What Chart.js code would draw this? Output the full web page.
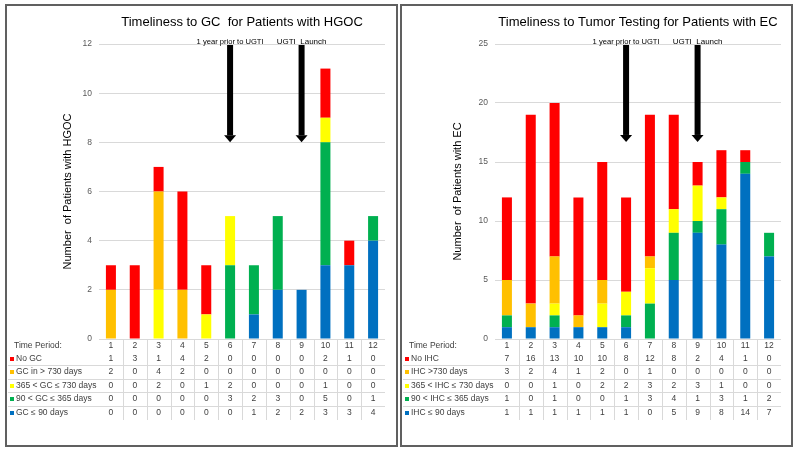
<!DOCTYPE html>
<html>
<head>
<meta charset="utf-8">
<title>Timeliness charts</title>
<script src="https://cdn.jsdelivr.net/npm/chart.js@4.4.0/dist/chart.umd.min.js"></script>
<style>
  html, body { margin: 0; padding: 0; background: #fff; }
  .panel { position: absolute; top: 4px; width: 389px; height: 439px; border: 2px solid #606060; }
  #leftPanel { left: 5px; }
  #rightPanel { left: 400px; }
  canvas { display: block; }
</style>
</head>
<body>
<div class="panel" id="leftPanel"><canvas id="hgocChart" width="389" height="439"></canvas></div>
<div class="panel" id="rightPanel"><canvas id="ecChart" width="389" height="439"></canvas></div>
<script>
// time periods on the x axis
const periods = ['1', '2', '3', '4', '5', '6', '7', '8', '9', '10', '11', '12'];

// HGOC - timeliness to GC
const hgocNoGc      = [1, 3, 1, 4, 2, 0, 0, 0, 0, 2, 1, 0];
const hgocOver730   = [2, 0, 4, 2, 0, 0, 0, 0, 0, 0, 0, 0];
const hgoc365to730  = [0, 0, 2, 0, 1, 2, 0, 0, 0, 1, 0, 0];
const hgoc90to365   = [0, 0, 0, 0, 0, 3, 2, 3, 0, 5, 0, 1];
const hgocUnder90   = [0, 0, 0, 0, 0, 0, 1, 2, 2, 3, 3, 4];

// EC - timeliness to tumor testing
const ecNoIhc       = [7, 16, 13, 10, 10, 8, 12, 8, 2, 4, 1, 0];
const ecOver730     = [3, 2, 4, 1, 2, 0, 1, 0, 0, 0, 0, 0];
const ec365to730    = [0, 0, 1, 0, 2, 2, 3, 2, 3, 1, 0, 0];
const ec90to365     = [1, 0, 1, 0, 0, 1, 3, 4, 1, 3, 1, 2];
const ecUnder90     = [1, 1, 1, 1, 1, 1, 0, 5, 9, 8, 14, 7];

// row labels, top row first (same order as the table)
const hgocLabels = ['No GC', 'GC in > 730 days', '365 < GC \u2264 730 days', '90 < GC \u2264 365 days', 'GC \u2264 90 days'];
const ecLabels   = ['No IHC', 'IHC >730 days', '365 < IHC \u2264 730 days', '90 < IHC \u2264 365 days', 'IHC \u2264 90 days'];

// y axis ticks
const hgocYMax = 12, hgocYStep = 2;
const ecYMax = 25, ecYStep = 5;

// arrows marking the launch periods
const markerPeriods = ['6', '9'];
const markerTexts = ['1 year prior to UGTI', 'UGTI  Launch'];
const hgocArrowTip = 8;
const ecArrowTip = 16.7;

const bandColors = ['#FF0000', '#FFC000', '#FFFF00', '#00B050', '#0070C0'];
const FONT = '"Liberation Sans", Arial, sans-serif';

const extrasPlugin = {
    id: 'extras',
    afterDraw(chart, args, opts) {
        const { ctx, chartArea, scales: { x, y } } = chart;
        const bottom = chartArea.bottom;
        ctx.save();

        // title, centred over the plot area
        ctx.fillStyle = '#000';
        ctx.font = '13px ' + FONT;
        ctx.textAlign = 'center';
        ctx.textBaseline = 'middle';
        ctx.fillText(opts.title, (chartArea.left + chartArea.right) / 2, chartArea.top - 22);

        // marker labels and arrows
        const top = y.getPixelForValue(y.max);
        markerPeriods.forEach((p, i) => {
            const cx = x.getPixelForValue(periods.indexOf(p));
            ctx.font = '8px ' + FONT;
            ctx.fillStyle = '#000';
            ctx.fillText(markerTexts[i], cx, top - 2.5, i === 0 ? 67 : 50);
            const tip = y.getPixelForValue(opts.arrowTip);
            ctx.fillRect(cx - 3, top + 1, 6, tip - 7 - top - 1);
            ctx.beginPath();
            ctx.moveTo(cx - 6, tip - 7);
            ctx.lineTo(cx + 6, tip - 7);
            ctx.lineTo(cx, tip);
            ctx.closePath();
            ctx.fill();
        });

        // data table under the axis
        const rows = opts.rows;
        const rowY = k => bottom + 19.5 + 13.55 * k;
        ctx.strokeStyle = '#d9d9d9';
        ctx.lineWidth = 1;
        for (let k = 0; k < rows.length - 1; k++) {
            const ly = Math.round(rowY(k) + 6.8) + 0.5;
            ctx.beginPath();
            ctx.moveTo(1, ly);
            ctx.lineTo(chartArea.right, ly);
            ctx.stroke();
        }
        for (let i = 0; i < periods.length - 1; i++) {
            const lx = Math.round((x.getPixelForValue(i) + x.getPixelForValue(i + 1)) / 2) + 0.5;
            ctx.beginPath();
            ctx.moveTo(lx, bottom + 1);
            ctx.lineTo(lx, bottom + 81);
            ctx.stroke();
        }

        ctx.font = '8.5px ' + FONT;
        ctx.textBaseline = 'middle';
        ctx.textAlign = 'left';
        ctx.fillStyle = '#404040';
        ctx.fillText('Time Period:', 7, bottom + 7);
        rows.forEach((row, k) => {
            const ry = rowY(k);
            ctx.fillStyle = row.color;
            ctx.fillRect(3, Math.round(ry) - 2, 4, 4);
            ctx.fillStyle = '#404040';
            ctx.textAlign = 'left';
            ctx.fillText(row.label, 9, ry);
            ctx.textAlign = 'center';
            row.values.forEach((v, i) => {
                ctx.fillText(String(v), x.getPixelForValue(i), ry);
            });
        });
        ctx.restore();
    }
};

function buildChart(canvasId, cfg) {
    // cfg.series is ordered top row first; stack bottom-up is the reverse
    const datasets = cfg.series.map((values, k) => ({
        label: cfg.labels[k],
        data: values,
        backgroundColor: bandColors[k],
        borderWidth: 0,
        barPercentage: 0.42,
        categoryPercentage: 1.0
    })).reverse();

    const rows = cfg.series.map((values, k) => ({
        label: cfg.labels[k],
        values: values,
        color: bandColors[k]
    }));

    return new Chart(document.getElementById(canvasId), {
        type: 'bar',
        data: { labels: periods, datasets: datasets },
        options: {
            responsive: false,
            animation: false,
            layout: { padding: { top: 38, right: cfg.padRight, bottom: 0, left: 0 } },
            plugins: {
                legend: { display: false },
                tooltip: { enabled: false },
                extras: { title: cfg.title, arrowTip: cfg.arrowTip, rows: rows }
            },
            scales: {
                x: {
                    stacked: true,
                    grid: { display: false, drawTicks: false },
                    border: { display: false },
                    ticks: { color: '#404040', font: { family: FONT, size: 8.5 }, padding: 2, maxRotation: 0 },
                    afterFit(scale) { scale.height = 106; }
                },
                y: {
                    stacked: true,
                    min: 0,
                    max: cfg.yMax,
                    grid: { color: '#d9d9d9', drawTicks: false },
                    border: { display: false },
                    ticks: { stepSize: cfg.yStep, color: '#595959', font: { family: FONT, size: 8.5 }, padding: 7 },
                    title: {
                        display: true,
                        text: cfg.yTitle,
                        color: '#000',
                        font: { family: FONT, size: 11 },
                        padding: { top: cfg.titlePad, bottom: 0 }
                    },
                    afterFit(scale) { scale.width = cfg.axisWidth; }
                }
            }
        },
        plugins: [extrasPlugin]
    });
}

buildChart('hgocChart', {
    title: 'Timeliness to GC  for Patients with HGOC',
    yTitle: 'Number  of Patients with HGOC',
    labels: hgocLabels,
    series: [hgocNoGc, hgocOver730, hgoc365to730, hgoc90to365, hgocUnder90],
    yMax: hgocYMax,
    yStep: hgocYStep,
    arrowTip: hgocArrowTip,
    axisWidth: 92,
    padRight: 11,
    titlePad: 54
});

buildChart('ecChart', {
    title: 'Timeliness to Tumor Testing for Patients with EC',
    yTitle: 'Number  of Patients with EC',
    labels: ecLabels,
    series: [ecNoIhc, ecOver730, ec365to730, ec90to365, ecUnder90],
    yMax: ecYMax,
    yStep: ecYStep,
    arrowTip: ecArrowTip,
    axisWidth: 93,
    padRight: 10,
    titlePad: 49
});
</script>
</body>
</html>
